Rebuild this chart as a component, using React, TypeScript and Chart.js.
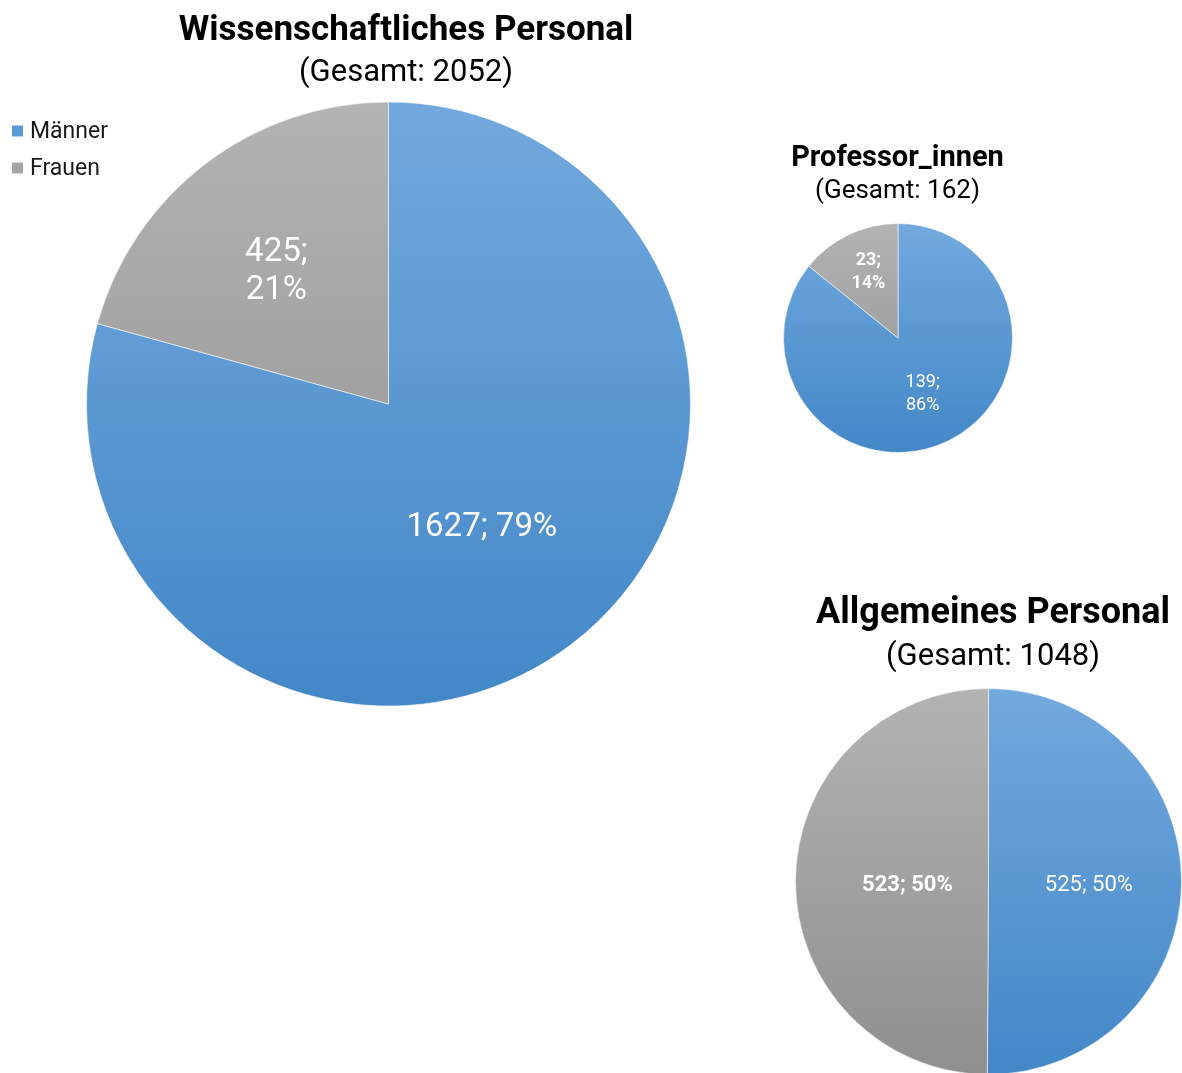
import React, { useEffect, useRef } from 'react';
import { Chart, registerables } from 'chart.js';

Chart.register(...registerables);

// ---- data ----
const CATEGORIES = ['Männer', 'Frauen'];
const WISS_VALUES = [1627, 425];
const PROF_VALUES = [139, 23];
const ALLG_VALUES = [525, 523];
const TITLES = ['Wissenschaftliches Personal', 'Professor_innen', 'Allgemeines Personal'];
const SUBTITLE_PREFIX = 'Gesamt';

// ---- style ----
const PAGE_W = 1182;
const PAGE_H = 1073;
const CANVAS_H = 1080;
const GRADIENTS = [
  ['#72a9de', '#4387c7'],
  ['#b3b3b3', '#8f8f8f'],
];
const LEGEND_COLORS = ['#5b9bd5', '#a5a5a5'];
const REG = 'Roboto, "Noto Sans", sans-serif';
const TITLE_FAMILY = 'Roboto, "Noto Sans", sans-serif';

type LabelStyle = { frac: number; dx: number; dy: number; twoLine: boolean; bold: boolean };
type PieCfg = {
  values: number[];
  title: string;
  area: { left: number; top: number; size: number };
  titleX: number;
  titleY: number;
  subY: number;
  titleSize: number;
  subSize: number;
  labelSize: number;
  lineGap: number;
  labels: LabelStyle[];
  legend: boolean;
};

const PIES: PieCfg[] = [
  {
    values: WISS_VALUES,
    title: TITLES[0],
    area: { left: 86, top: 101.5, size: 605 },
    titleX: 406,
    titleY: 31,
    subY: 73,
    titleSize: 35,
    subSize: 31,
    labelSize: 33,
    lineGap: 38,
    labels: [
      { frac: 0.51, dx: 0, dy: 1, twoLine: false, bold: false },
      { frac: 0.58, dx: -6, dy: 7, twoLine: true, bold: false },
    ],
    legend: true,
  },
  {
    values: PROF_VALUES,
    title: TITLES[1],
    area: { left: 783, top: 223, size: 230 },
    titleX: 897.5,
    titleY: 159,
    subY: 191,
    titleSize: 29,
    subSize: 26,
    labelSize: 18,
    lineGap: 23,
    labels: [
      { frac: 0.5, dx: 0, dy: 4, twoLine: true, bold: false },
      { frac: 0.64, dx: 2, dy: 0, twoLine: true, bold: true },
    ],
    legend: false,
  },
  {
    values: ALLG_VALUES,
    title: TITLES[2],
    area: { left: 795, top: 688, size: 387 },
    titleX: 993,
    titleY: 614,
    subY: 657,
    titleSize: 36,
    subSize: 31,
    labelSize: 22,
    lineGap: 24,
    labels: [
      { frac: 0.52, dx: 0, dy: 4, twoLine: false, bold: false },
      { frac: 0.42, dx: 0, dy: 4, twoLine: false, bold: true },
    ],
    legend: false,
  },
];

const textPlugin = {
  id: 'pieTexts',
  afterDraw(chart: any) {
    const cfg: PieCfg = chart.options.plugins.pieTexts.cfg;
    const ctx = chart.ctx as CanvasRenderingContext2D;
    const total = cfg.values.reduce((a, b) => a + b, 0);
    ctx.save();
    ctx.textAlign = 'center';
    ctx.textBaseline = 'middle';
    // titles
    ctx.fillStyle = '#000000';
    ctx.font = `bold ${cfg.titleSize}px ${TITLE_FAMILY}`;
    ctx.fillText(cfg.title, cfg.titleX, cfg.titleY);
    ctx.font = `${cfg.subSize}px ${REG}`;
    ctx.fillText(`(${SUBTITLE_PREFIX}: ${total})`, cfg.titleX, cfg.subY);

    // data labels
    const meta = chart.getDatasetMeta(0);
    meta.data.forEach((arc: any, i: number) => {
      const p = arc.getProps(['x', 'y', 'startAngle', 'endAngle', 'outerRadius'], true);
      const mid = (p.startAngle + p.endAngle) / 2;
      const st = cfg.labels[i];
      const r = p.outerRadius * st.frac;
      const cx = p.x + Math.cos(mid) * r + st.dx;
      const cy = p.y + Math.sin(mid) * r + st.dy;
      const v = cfg.values[i];
      const pct = Math.round((v / total) * 100);
      ctx.fillStyle = '#ffffff';
      ctx.font = `${st.bold ? 'bold ' : ''}${cfg.labelSize}px ${REG}`;
      if (st.twoLine) {
        ctx.fillText(`${v};`, cx, cy - cfg.lineGap / 2);
        ctx.fillText(`${pct}%`, cx, cy + cfg.lineGap / 2);
      } else {
        ctx.fillText(`${v}; ${pct}%`, cx, cy);
      }
    });

    // legend
    if (cfg.legend) {
      ctx.textAlign = 'left';
      CATEGORIES.forEach((c, i) => {
        const y = 131 + i * 37;
        ctx.fillStyle = LEGEND_COLORS[i];
        ctx.fillRect(12, y - 5.5, 11, 11);
        ctx.fillStyle = '#1a1a1a';
        ctx.font = `23px ${REG}`;
        ctx.fillText(c, 30, y + 1);
      });
    }
    ctx.restore();
  },
};

function PieCanvas({ cfg }: { cfg: PieCfg }) {
  const ref = useRef<HTMLCanvasElement | null>(null);
  useEffect(() => {
    if (!ref.current) return;
    const a = cfg.area;
    const bg = (idx: number) => (context: any) => {
      const ca = context.chart.chartArea;
      if (!ca) return GRADIENTS[idx][0];
      const g = context.chart.ctx.createLinearGradient(0, ca.top, 0, ca.bottom);
      g.addColorStop(0, GRADIENTS[idx][0]);
      g.addColorStop(1, GRADIENTS[idx][1]);
      return g;
    };
    const chart = new Chart(ref.current, {
      type: 'pie',
      data: {
        labels: CATEGORIES,
        datasets: [
          {
            data: cfg.values,
            backgroundColor: (c: any) => bg(c.dataIndex)(c),
            borderColor: 'rgba(255,255,255,0.55)',
            borderWidth: 1,
          },
        ],
      },
      options: {
        responsive: false,
        animation: false,
        layout: {
          padding: {
            left: a.left,
            top: a.top,
            right: PAGE_W - a.left - a.size,
            bottom: CANVAS_H - a.top - a.size,
          },
        },
        plugins: {
          legend: { display: false },
          title: { display: false },
          tooltip: { enabled: false },
          pieTexts: { cfg },
        } as any,
      },
      plugins: [textPlugin],
    });
    return () => chart.destroy();
  }, [cfg]);
  return (
    <canvas
      ref={ref}
      width={PAGE_W}
      height={CANVAS_H}
      style={{ position: 'absolute', left: 0, top: 0, width: PAGE_W, height: CANVAS_H }}
    />
  );
}

export default function App() {
  return (
    <div
      style={{
        position: 'absolute',
        left: 0,
        top: 0,
        width: PAGE_W,
        height: PAGE_H,
        overflow: 'hidden',
        background: '#ffffff',
      }}
    >
      {PIES.map((p, i) => (
        <PieCanvas key={i} cfg={p} />
      ))}
    </div>
  );
}
